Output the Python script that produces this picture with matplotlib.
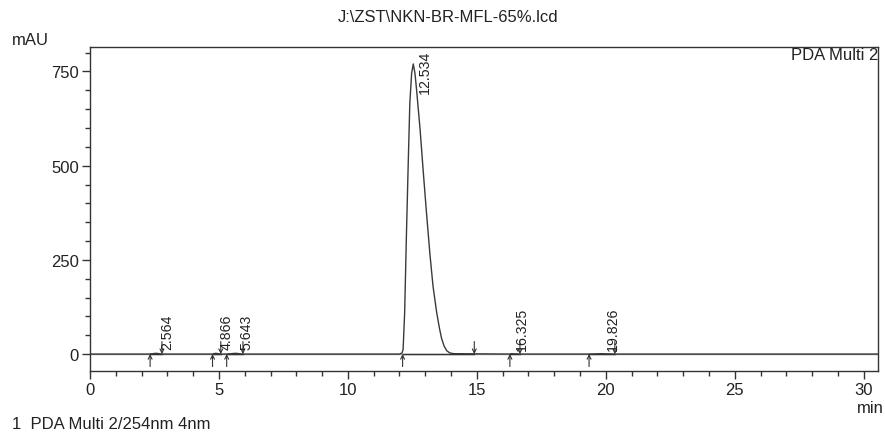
import matplotlib
matplotlib.use('Agg')
import matplotlib.pyplot as plt
from matplotlib.ticker import MultipleLocator

plt.rcParams['font.family'] = ['Liberation Sans', 'DejaVu Sans']

# chromatogram trace (min, mAU)
time = [0.0, 2.30, 2.56, 2.80, 4.75, 4.87, 5.07, 5.30, 5.64, 5.93,
        12.00, 12.10, 12.14, 12.20, 12.27, 12.34, 12.40, 12.47, 12.534,
        12.60, 12.66, 12.80, 12.92, 13.05, 13.18, 13.30, 13.44, 13.55,
        13.63, 13.73, 13.83, 13.95, 14.10, 16.28, 16.325, 16.67,
        19.35, 19.826, 20.35, 30.8]
signal = [0.0, 0.0, 2.0, 0.0, 0.0, 2.0, 0.0, 0.0, 2.0, 0.0,
          0.0, 3.0, 12.0, 110.0, 320.0, 510.0, 665.0, 745.0, 770.0,
          745.0, 703.0, 595.0, 485.0, 372.0, 265.0, 180.0, 111.0, 68.0,
          42.0, 21.0, 9.0, 3.0, 1.0, 0.0, 1.0, 0.0,
          0.0, 1.0, 0.0, 0.0]

# peak table
peak_rt = [2.564, 4.866, 5.643, 12.534, 16.325, 19.826]
peak_height = [2, 2, 2, 770, 1, 1]
peak_start = [2.33, 4.75, 5.30, 12.12, 16.28, 19.35]
peak_end = [2.79, 5.07, 5.93, 14.90, 16.67, 20.35]

xmin, xmax = 0, 30.55
ymin, ymax = -45, 815

fig = plt.figure(figsize=(8.85, 4.35), dpi=100)
ax = fig.add_axes([0.1017, 0.1448, 0.8903, 0.7449])

ax.plot(time, signal, color='#3a3a3a', lw=1.0, zorder=3)
ax.axhline(0, color='#999999', lw=1.0, zorder=2)

for s, e in zip(peak_start, peak_end):
    ax.plot([s, e], [0, 0], color='#333333', lw=1.0, zorder=4)
    # start of peak: up arrow below baseline
    ax.annotate('', xy=(s, 0), xytext=(0, -9), textcoords='offset points',
                arrowprops=dict(arrowstyle='->', lw=0.8, color='#333333',
                                shrinkA=0, shrinkB=0, mutation_scale=7))
    # end of peak: down arrow above baseline
    ax.annotate('', xy=(e, 0), xytext=(0, 9), textcoords='offset points',
                arrowprops=dict(arrowstyle='->', lw=0.8, color='#333333',
                                shrinkA=0, shrinkB=0, mutation_scale=7))

for rt, h in zip(peak_rt, peak_height):
    if h > ymax - 150:
        ax.annotate('%.3f' % rt, xy=(rt, ymax), xytext=(3, -2),
                    textcoords='offset points', rotation=90,
                    ha='left', va='top', fontsize=10.2, color='#222222')
    else:
        ax.annotate('%.3f' % rt, xy=(rt, h), xytext=(3, 3),
                    textcoords='offset points', rotation=90,
                    ha='left', va='bottom', fontsize=10.2, color='#222222')

ax.set_xlim(xmin, xmax)
ax.set_ylim(ymin, ymax)
ax.xaxis.set_major_locator(MultipleLocator(5))
ax.xaxis.set_minor_locator(MultipleLocator(1))
ax.yaxis.set_major_locator(MultipleLocator(250))
ax.yaxis.set_minor_locator(MultipleLocator(50))
ax.tick_params(which='major', length=6, width=1, color='#333333',
               labelsize=12, labelcolor='#222222', pad=2)
ax.tick_params(which='minor', length=3.5, width=1, color='#333333')
for sp in ax.spines.values():
    sp.set_color('#333333')
    sp.set_linewidth(1)

ax.text(1.0, 1.0, 'PDA Multi 2', transform=ax.transAxes, ha='right', va='top',
        fontsize=12, color='#222222')

fig.text(0.506, 0.959, 'J:\\ZST\\NKN-BR-MFL-65%.lcd', ha='center', va='center',
         fontsize=12, color='#222222')
fig.text(0.013, 0.908, 'mAU', ha='left', va='center', fontsize=12, color='#222222')
fig.text(0.999, 0.06, 'min', ha='right', va='center', fontsize=12, color='#222222')
fig.text(0.014, 0.023, '1  PDA Multi 2/254nm 4nm', ha='left', va='center',
         fontsize=12, color='#222222')

fig.savefig('out.png', dpi=100)
